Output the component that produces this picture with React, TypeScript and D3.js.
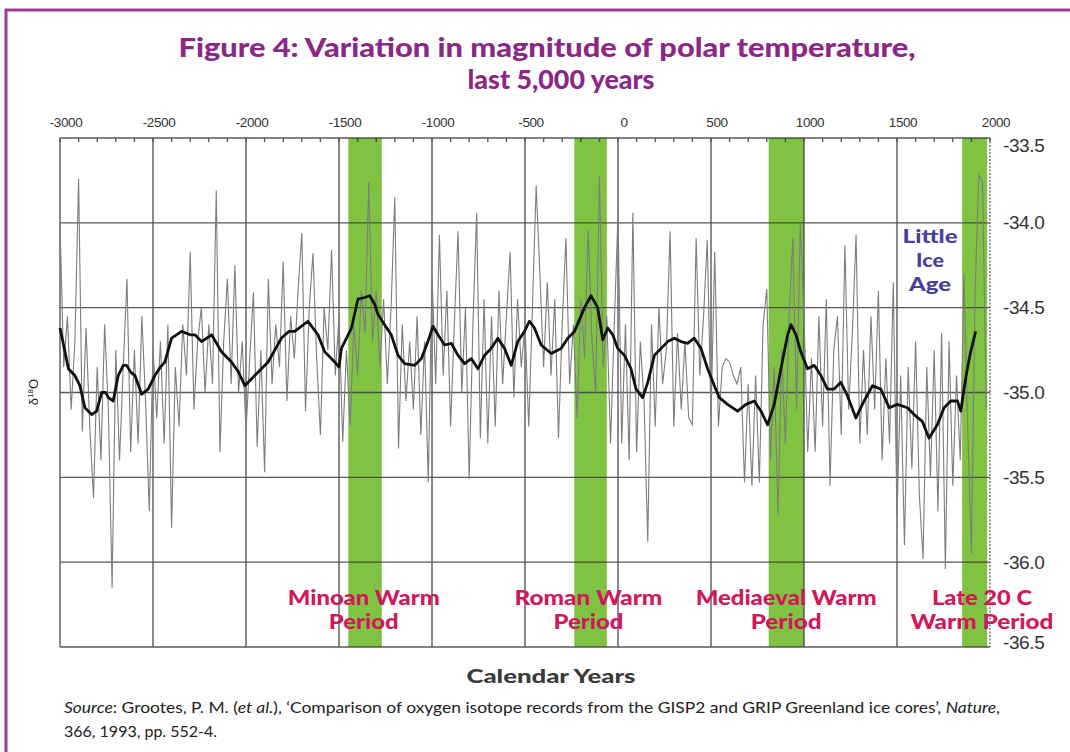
import React from "react";
import * as d3 from "d3";

const W = 1070;
const H = 752;

const xTicks = [-3000, -2500, -2000, -1500, -1000, -500, 0, 500, 1000, 1500, 2000];
const yTicks = [-33.5, -34.0, -34.5, -35.0, -35.5, -36.0, -36.5];
const yTickLabels = ["-33.5", "-34.0", "-34.5", "-35.0", "-35.5", "-36.0", "-36.5"];

// raw (annual-ish) record, one value every 20 years from -3000
const rawStart = -3000;
const rawStep = 20;
const rawValues = [
  // -3000 .. -2520
  -34.0, -34.85, -34.55, -35.1, -34.7, -33.74, -35.23, -34.62, -35.2, -35.62, -34.85, -35.4, -34.6,
  -35.1, -36.15, -34.75, -35.4, -34.85, -34.33, -35.35, -34.75, -35.3, -34.55, -35.05, -35.7,
  // -2500 .. -2020
  -34.74, -35.15, -34.7, -35.3, -34.6, -35.8, -34.85, -35.2, -34.6, -34.9, -34.17, -35.1, -34.7,
  -34.5, -35.0, -34.6, -34.95, -33.81, -35.35, -34.7, -34.33, -34.95, -34.25, -35.0, -34.7,
  // -2000 .. -1520
  -35.23, -34.8, -34.41, -35.32, -34.75, -35.47, -34.33, -34.95, -34.6, -34.85, -34.23, -35.05, -34.55,
  -34.8, -34.4, -34.06, -35.11, -34.5, -34.18, -34.8, -35.25, -34.5, -34.75, -34.16, -34.9,
  // -1500 .. -1020
  -34.55, -35.29, -34.75, -35.2, -34.6, -34.9, -34.4, -34.65, -33.76, -34.7, -34.4, -34.85, -34.45,
  -34.95, -34.5, -33.85, -35.33, -34.6, -35.05, -34.7, -35.1, -34.55, -35.25, -34.7, -35.53,
  // -1000 .. -520
  -34.3, -34.95, -34.07, -34.9, -34.4, -35.2, -34.6, -34.05, -35.0, -34.5, -35.51, -34.6, -33.94,
  -35.27, -34.45, -35.3, -34.55, -35.2, -34.4, -34.95, -34.55, -34.17, -35.03, -34.45, -34.85,
  // -500 .. -20
  -34.6, -35.2, -34.5, -33.78, -34.3, -34.85, -34.35, -34.9, -34.45, -35.27, -34.6, -34.09, -34.95,
  -34.6, -35.15, -34.45, -34.8, -34.04, -34.7, -35.0, -33.72, -34.85, -34.55, -35.3, -34.6,
  // 0 .. 480
  -33.95, -35.3, -34.6, -35.4, -33.94, -35.35, -34.7, -35.05, -35.88, -34.6, -35.2, -34.5, -34.95,
  -34.75, -34.05, -35.2, -34.65, -35.1, -34.7, -35.15, -35.19, -34.09, -34.9, -34.55, -34.1,
  // 500 .. 980
  -35.15, -34.17, -35.2, -34.85, -34.8, -34.82, -34.9, -34.95, -34.85, -35.53, -34.95, -35.55, -34.9,
  -35.53, -34.6, -34.39, -35.4, -34.85, -35.72, -34.75, -35.3, -34.55, -34.09, -35.1, -34.01,
  // 1000 .. 1480
  -34.55, -35.35, -34.8, -35.35, -34.55, -35.2, -34.45, -35.55, -34.75, -34.55, -35.25, -34.13, -35.1,
  -34.65, -34.07, -35.3, -34.75, -35.25, -34.55, -35.1, -34.4, -35.4, -34.8, -35.3, -34.35,
  // 1500 .. 1980
  -35.74, -34.9, -35.9, -34.85, -35.45, -34.7, -35.6, -35.98, -34.85, -35.5, -34.75, -35.7, -34.65,
  -36.04, -34.7, -35.55, -34.9, -35.4, -34.3, -35.2, -35.95, -34.4, -33.72, -33.76, -35.1,
];

// smoothed record (thick black line)
const smoothYears = [
  -3000, -2975, -2955, -2920, -2893, -2866, -2830, -2803, -2776, -2755, -2740, -2714, -2687, -2660,
  -2642, -2620, -2597, -2561, -2526, -2490, -2460, -2436, -2400, -2346, -2300, -2275, -2239, -2185,
  -2132, -2078, -2040, -2006, -1953, -1881, -1810, -1770, -1738, -1667, -1613, -1577, -1523, -1500,
  -1487, -1433, -1398, -1362, -1335, -1308, -1290, -1255, -1219, -1183, -1147, -1093, -1057, -1022,
  -995, -968, -932, -896, -861, -825, -789, -753, -717, -682, -646, -610, -574, -539, -503, -476,
  -449, -413, -359, -306, -270, -234, -180, -145, -109, -82, -55, -28, -2, 34, 70, 97, 133, 160,
  196, 232, 267, 303, 339, 374, 410, 446, 482, 518, 545, 589, 643, 688, 733, 769, 804, 840, 876,
  912, 930, 957, 983, 1019, 1055, 1091, 1126, 1162, 1198, 1234, 1279, 1323, 1368, 1413, 1458, 1502,
  1556, 1592, 1636, 1672, 1717, 1753, 1789, 1825, 1843, 1860, 1878, 1896, 1923,
];
const smoothValues = [
  -34.62, -34.75, -34.86, -34.9, -34.96, -35.09, -35.13, -35.11, -35.0, -35.0, -35.03, -35.05, -34.9, -34.84,
  -34.84, -34.88, -34.9, -35.01, -34.98, -34.9, -34.85, -34.82, -34.68, -34.64, -34.66, -34.66, -34.7, -34.66,
  -34.76, -34.82, -34.88, -34.96, -34.9, -34.82, -34.68, -34.64, -34.64, -34.58, -34.66, -34.76, -34.82, -34.85,
  -34.74, -34.62, -34.45, -34.44, -34.43, -34.48, -34.54, -34.6, -34.66, -34.78, -34.83, -34.84, -34.8, -34.7,
  -34.61, -34.66, -34.72, -34.71, -34.78, -34.83, -34.8, -34.86, -34.78, -34.74, -34.68, -34.74, -34.84, -34.7, -34.64, -34.58,
  -34.62, -34.72, -34.77, -34.74, -34.68, -34.64, -34.5, -34.43, -34.5, -34.69, -34.62, -34.66, -34.74, -34.78, -34.86, -34.98, -35.03, -34.94,
  -34.78, -34.74, -34.7, -34.68, -34.7, -34.71, -34.68, -34.74, -34.86, -34.96, -35.03, -35.07, -35.11, -35.07, -35.05, -35.11, -35.19, -35.07, -34.86,
  -34.66, -34.6, -34.66, -34.76, -34.86, -34.84, -34.9, -34.98, -34.98, -34.94, -35.02, -35.15, -35.05, -34.96, -34.98, -35.09, -35.07,
  -35.09, -35.13, -35.17, -35.27, -35.19, -35.09, -35.05, -35.05, -35.11, -34.98, -34.86, -34.76, -34.64,
];

// warm periods (green bands)
const periodStarts = [-1450, -235, 810, 1850];
const periodEnds = [-1270, -60, 1000, 1985];
const periodLine1 = ["Minoan Warm", "Roman Warm", "Mediaeval Warm", "Late 20 C"];
const periodLine2 = ["Period", "Period", "Period", "Warm Period"];
const periodLabelYears = [-1367, -159, 904, 1957];

const iceAgeLines = ["Little", "Ice", "Age"];
const iceAgeYear = 1678;

// rendered text widths (px) to mimic the wide bold face of the original
const line1Widths = [152, 148, 181, 100];
const line2Widths = [70, 70, 71, 143];
const iceAgeWidths = [55, 28, 42];

export default function App() {
  const left = 60;
  const right = 990;
  const top = 138;
  const bottom = 647;

  const x = d3.scaleLinear().domain([-3000, 2000]).range([left, right]);
  const y = d3.scaleLinear().domain([-36.5, -33.5]).range([bottom, top]);

  const rawLine = d3
    .line<number>()
    .x((_, i) => x(rawStart + i * rawStep))
    .y((d) => y(d));
  const smoothLine = d3
    .line<number>()
    .x((_, i) => x(smoothYears[i]))
    .y((d) => y(d));

  const minorTicks = d3.range(-3000, 2001, 100);
  const gridColor = "#3c3c3c";
  const labelColor = "#d3175a";
  const boldFont = "Lato, 'Open Sans', sans-serif";

  return (
    <svg
      width={W}
      height={H}
      viewBox={`0 0 ${W} ${H}`}
      style={{ position: "fixed", left: 0, top: 0, background: "#fff" }}
    >
      <rect x={0} y={0} width={W} height={H} fill="#fff" />
      {/* purple frame */}
      <rect x={6} y={10} width={W + 20} height={H + 20} fill="none" stroke="#9a3b98" strokeWidth={3} />

      {/* title */}
      <g fill="#8a2787" fontFamily={boldFont} fontWeight={900} fontSize={27} textAnchor="middle">
        <text x={547} y={57} textLength={737} lengthAdjust="spacingAndGlyphs">
          Figure 4: Variation in magnitude of polar temperature,
        </text>
        <text x={561} y={89} textLength={187} lengthAdjust="spacingAndGlyphs">
          last 5,000 years
        </text>
      </g>

      {/* green warm bands */}
      {periodStarts.map((s, i) => (
        <rect key={"band" + i} x={x(s)} y={top} width={x(periodEnds[i]) - x(s)} height={bottom - top} fill="#80c343" />
      ))}

      {/* grid */}
      <g stroke={gridColor} strokeWidth={1.4} opacity={0.85}>
        {yTicks.map((t) => (
          <line key={"h" + t} x1={left} x2={right} y1={y(t)} y2={y(t)} />
        ))}
        {xTicks.slice(0, -1).map((t) => (
          <line key={"v" + t} x1={x(t)} x2={x(t)} y1={top} y2={bottom} />
        ))}
        <line x1={right} x2={right} y1={top} y2={bottom} strokeDasharray="2,1.5" strokeWidth={1.2} />
        {minorTicks.map((t) => (
          <line key={"m" + t} x1={x(t)} x2={x(t)} y1={top} y2={top + 4} />
        ))}
      </g>

      {/* raw data */}
      <path d={rawLine(rawValues) || ""} fill="none" stroke="#7d7d7d" strokeWidth={1.1} strokeLinejoin="miter" />
      {/* smoothed */}
      <path d={smoothLine(smoothValues) || ""} fill="none" stroke="#111" strokeWidth={2.8} strokeLinejoin="round" />

      {/* x tick labels (top) */}
      <g fontFamily="'Liberation Sans', Arial, sans-serif" fontSize={13.5} fill="#333" textAnchor="middle" letterSpacing={-0.4}>
        {xTicks.map((t) => (
          <text key={"xl" + t} x={x(t) + 6} y={127}>
            {t}
          </text>
        ))}
      </g>

      {/* y tick labels (right) */}
      <g fontFamily="'Liberation Sans', Arial, sans-serif" fontSize={19} fill="#333" letterSpacing={-0.4}>
        {yTicks.map((t, i) => (
          <text
            key={"yl" + t}
            x={1003}
            y={Math.min(Math.max(y(t), top + 7), bottom - 5)}
            dominantBaseline="central"
          >
            {yTickLabels[i]}
          </text>
        ))}
      </g>

      {/* y-axis label */}
      <text
        transform="translate(38,392) rotate(-90)"
        textAnchor="middle"
        fontFamily="'Liberation Sans', Arial, sans-serif"
        fontSize={13}
        fill="#222"
      >
        δ<tspan fontSize={8} dy={-5}>18</tspan>
        <tspan dy={5}>O</tspan>
      </text>

      {/* warm period labels */}
      <g fill={labelColor} fontFamily={boldFont} fontWeight={900} fontSize={20} textAnchor="middle">
        {periodLabelYears.map((yr, i) => (
          <g key={"pl" + i}>
            <text x={x(yr)} y={605} textLength={line1Widths[i]} lengthAdjust="spacingAndGlyphs">
              {periodLine1[i]}
            </text>
            <text x={x(yr)} y={629} textLength={line2Widths[i]} lengthAdjust="spacingAndGlyphs">
              {periodLine2[i]}
            </text>
          </g>
        ))}
      </g>

      {/* Little Ice Age */}
      <g fill="#4a3f9f" fontFamily={boldFont} fontWeight={900} fontSize={19} textAnchor="middle">
        {iceAgeLines.map((l, i) => (
          <text key={"ia" + i} x={x(iceAgeYear)} y={243 + i * 24} textLength={iceAgeWidths[i]} lengthAdjust="spacingAndGlyphs">
            {l}
          </text>
        ))}
      </g>

      {/* x-axis title */}
      <text
        x={551}
        y={683}
        textAnchor="middle"
        fontFamily={boldFont}
        fontWeight={900}
        fontSize={18}
        fill="#3a3a3a"
        textLength={169}
        lengthAdjust="spacingAndGlyphs"
      >
        Calendar Years
      </text>

      {/* source */}
      <g fontFamily="Lato, 'Open Sans', sans-serif" fontSize={16} fill="#222">
        <text x={64} y={713} textLength={936} lengthAdjust="spacingAndGlyphs">
          <tspan fontStyle="italic">Source</tspan>: Grootes, P. M. (<tspan fontStyle="italic">et al.</tspan>), ‘Comparison of
          oxygen isotope records from the GISP2 and GRIP Greenland ice cores’, <tspan fontStyle="italic">Nature</tspan>,
        </text>
        <text x={64} y={737}>
          366, 1993, pp. 552-4.
        </text>
      </g>
    </svg>
  );
}
